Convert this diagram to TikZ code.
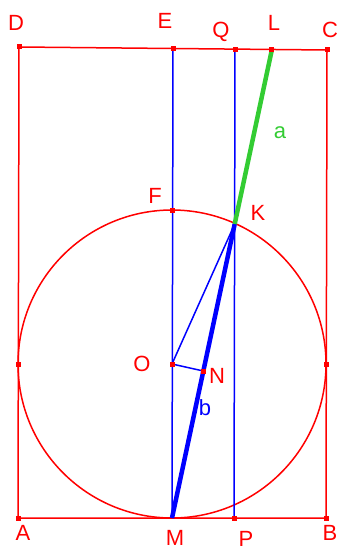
\documentclass[tikz,border=0pt]{standalone}
\usepackage{fontspec}
\setmainfont{Liberation Sans}
\usetikzlibrary{calc}
\definecolor{lgreen}{HTML}{33CC33}

\begin{document}
\begin{tikzpicture}[
    x=1pt, y=-1pt,
    mark sq/.style={rectangle, fill=red, inner sep=0pt, minimum size=5pt},
    lbl/.style={inner sep=0pt, text=red, font=\fontsize{22}{22}\selectfont},
    redline/.style={draw=red, line width=1.5pt},
    blueline/.style={draw=blue, line width=1.5pt},
    boldline/.style={line width=4.5pt}
]
\useasboundingbox (0,0) rectangle (338,551);

% points
\coordinate (A) at (18,518);
\coordinate (B) at (326,518);
\coordinate (C) at (327,50);
\coordinate (D) at (19,47);
\coordinate (E) at (173,48.5);
\coordinate (Q) at (235,49.5);
\coordinate (M) at (172,518);
\coordinate (P) at (234,518);
\coordinate (O) at (172,364);
\coordinate (F) at (172,210);
\coordinate (W) at (18,364);
\coordinate (R) at (326,364);
\coordinate (K) at (234.7,224);
\coordinate (N) at ($(M)!0.5!(K)$);
\coordinate (L) at ($(M)!1.592!(K)$);

% rectangle and circle
\draw[redline] (A) -- (B) -- (C) -- (D) -- cycle;
\draw[redline] (O) circle (154pt);

% lines
\draw[blueline] (E) -- (M);
\draw[blueline] (Q) -- (P);
\draw[blueline] (O) -- (K);
\draw[blueline] (O) -- (N);
\draw[boldline, blue] (M) -- (K);
\draw[boldline, lgreen] (K) -- (L);

% markers
\foreach \p in {D,E,Q,L,C,F,W,R,O,N,A,P,B}
    \node[mark sq] at (\p) {};

% labels
\node[lbl] (lD) at (16,23) {D};
\node[lbl] (lE) at (165,21) {E};
\node[lbl] (lQ) at (221,32) {Q};
\node[lbl] (lL) at (274,23) {L};
\node[lbl] (lC) at (330,30) {C};
\node[lbl] (lF) at (155,196) {F};
\node[lbl] (lK) at (258,213) {K};
\node[lbl] (lO) at (142,364) {O};
\node[lbl] (lN) at (217,376) {N};
\node[lbl] (lA) at (23,533) {A};
\node[lbl] (lM) at (175,538) {M};
\node[lbl] (lP) at (246,539) {P};
\node[lbl] (lB) at (330,533) {B};
\node[lbl, text=lgreen] (la) at (280,133) {a};
\node[lbl, text=blue] (lb) at (205,408) {b};
\end{tikzpicture}
\end{document}
